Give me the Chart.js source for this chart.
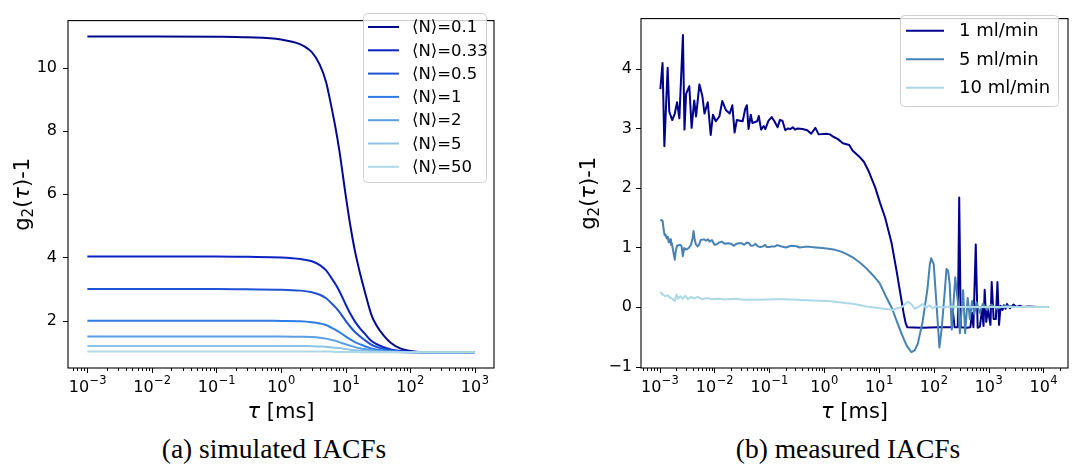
<!DOCTYPE html>
<html>
<head>
<meta charset="utf-8">
<script src="https://cdn.jsdelivr.net/npm/chart.js@4.4.1/dist/chart.umd.min.js"></script>
<style>
  body { margin: 0; background: #fff; width: 1092px; height: 470px; overflow: hidden; position: relative; }
  .panel { position: absolute; top: 0; width: 546px; height: 430px; }
  .cap { position: absolute; top: 434px; width: 546px; text-align: center;
         font-family: 'Liberation Serif', serif; font-size: 27.5px; line-height: 30px; color: #000; }
</style>
</head>
<body>
<div class="panel" style="left:0"><canvas id="simChart" width="546" height="430"></canvas></div>
<div class="panel" style="left:546px"><canvas id="measChart" width="546" height="430"></canvas></div>
<div class="cap" style="left:1px">(a) simulated IACFs</div>
<div class="cap" style="left:575px">(b) measured IACFs</div>

<script>
// ---- (a) simulated IACFs ----
const tauSim = [0.001, 0.01, 0.1, 0.3, 1, 2, 3, 4, 5, 6, 7, 8, 10, 12, 14, 17, 20, 25, 30, 40, 50, 70, 100, 200, 1000];
const g2N01  = [11, 11, 10.99, 10.97, 10.9, 10.75, 10.5, 10.1, 9.55, 8.8, 8.1, 7.4, 6.0, 4.95, 4.2, 3.45, 2.9, 2.2, 1.85, 1.5, 1.3, 1.12, 1.04, 1.0, 1.0];
const g2N033 = [4.03, 4.03, 4.03, 4.02, 4.0, 3.95, 3.88, 3.76, 3.59, 3.36, 3.15, 2.94, 2.52, 2.2, 1.97, 1.74, 1.58, 1.36, 1.26, 1.15, 1.09, 1.04, 1.01, 1.0, 1.0];
const g2N05  = [3, 3, 3, 2.99, 2.98, 2.95, 2.9, 2.82, 2.71, 2.56, 2.42, 2.28, 2.0, 1.79, 1.64, 1.49, 1.38, 1.24, 1.17, 1.1, 1.06, 1.02, 1.01, 1.0, 1.0];
const g2N1   = [2, 2, 2, 2, 1.99, 1.98, 1.95, 1.91, 1.86, 1.78, 1.71, 1.64, 1.5, 1.4, 1.32, 1.25, 1.19, 1.12, 1.09, 1.05, 1.03, 1.01, 1.0, 1.0, 1.0];
const g2N2   = [1.5, 1.5, 1.5, 1.5, 1.5, 1.49, 1.48, 1.46, 1.43, 1.39, 1.36, 1.32, 1.25, 1.2, 1.16, 1.12, 1.1, 1.06, 1.04, 1.03, 1.02, 1.01, 1.0, 1.0, 1.0];
const g2N5   = [1.2, 1.2, 1.2, 1.2, 1.2, 1.2, 1.19, 1.18, 1.17, 1.16, 1.14, 1.13, 1.1, 1.08, 1.06, 1.05, 1.04, 1.02, 1.02, 1.01, 1.01, 1.0, 1.0, 1.0, 1.0];
const g2N50  = [1.02, 1.02, 1.02, 1.02, 1.02, 1.02, 1.02, 1.02, 1.02, 1.02, 1.01, 1.01, 1.01, 1.01, 1.01, 1.0, 1.0, 1.0, 1.0, 1.0, 1.0, 1.0, 1.0, 1.0, 1.0];
const simLabels = ['\u27E8N\u27E9=0.1', '\u27E8N\u27E9=0.33', '\u27E8N\u27E9=0.5', '\u27E8N\u27E9=1', '\u27E8N\u27E9=2', '\u27E8N\u27E9=5', '\u27E8N\u27E9=50'];
const simColors = ['#03098c', '#0b23c3', '#2052d6', '#2f7be6', '#5a9fe4', '#8ec4e6', '#aed8e6'];
const simXExps = [-3, -2, -1, 0, 1, 2, 3];
const simYTicks = [2, 4, 6, 8, 10];

// ---- (b) measured IACFs ----
const tauFlow1 = [1.03e-3, 1.13e-3, 1.22e-3, 1.40e-3, 1.50e-3, 1.70e-3, 1.89e-3, 2.08e-3, 2.29e-3, 2.66e-3,
  2.84e-3, 3.04e-3, 3.48e-3, 3.83e-3, 4.28e-3, 4.62e-3, 5.31e-3, 6.0e-3, 6.59e-3, 7.55e-3,
  8.55e-3, 9.38e-3, 0.0106, 0.0123, 0.0139, 0.0161, 0.019, 0.0212, 0.0233, 0.0256,
  0.0294, 0.0327, 0.0365, 0.0391, 0.0418, 0.046, 0.0492, 0.0603, 0.0644, 0.071,
  0.0791, 0.0847, 0.097, 0.111, 0.124, 0.142, 0.156, 0.174, 0.196, 0.219,
  0.244, 0.269, 0.295, 0.329, 0.404, 0.494, 0.582, 0.695, 0.796, 1.11,
  1.28, 1.47, 1.79, 2.2, 2.88, 3.3, 4.35, 5.32, 6.52, 8.55,
  10.5, 13.0, 17.0, 20.9, 25.1, 28.2, 30.9, 33.1,
  60, 120, 214, 223, 240, 275, 292, 312, 400, 467, 499, 530, 585, 634, 696, 765, 810, 851, 910, 973,
  1084, 1143, 1239, 1361, 1455, 1556, 1663, 1800, 1901, 2050, 2173, 2350, 2484, 2840, 3250, 3715, 4246, 5500, 8000, 12600];
const g2Flow1 = [3.66, 4.10, 2.70, 4.02, 3.28, 3.14, 3.25, 3.44, 3.17, 4.57,
  2.98, 3.58, 3.71, 3.01, 3.47, 3.20, 3.74, 3.55, 3.25, 3.44,
  2.89, 3.23, 3.12, 3.20, 3.46, 3.31, 3.25, 3.39, 2.93, 3.14,
  3.13, 3.12, 3.33, 3.39, 2.99, 3.23, 3.09, 3.12, 3.21, 2.98,
  3.04, 2.99, 3.13, 3.19, 3.12, 3.02, 3.14, 3.13, 2.97, 3.00,
  2.99, 3.02, 2.98, 3.00, 2.99, 2.97, 2.91, 3.01, 2.90, 2.91,
  2.90, 2.86, 2.82, 2.75, 2.72, 2.63, 2.53, 2.44, 2.28, 2.01,
  1.75, 1.5, 1.08, 0.62, 0.18, -0.1, -0.28, -0.34,
  -0.35, -0.34, -0.34, -0.05, -0.34, -0.34, 1.84, -0.34, -0.35, -0.34, -0.1, -0.34, 1.05, -0.35, -0.33, -0.03, -0.32, 0.29, -0.25, -0.03,
  -0.3, 0.42, -0.2, -0.2, 0.42, -0.3, 0.02, -0.05, 0.03, -0.03, 0.05, 0.0, -0.02, 0.04, 0.0, 0.02, 0.0, 0.01, 0.0, 0.0];

const tauFlow5 = [1.03e-3, 1.13e-3, 1.18e-3, 1.23e-3, 1.28e-3, 1.35e-3, 1.41e-3, 1.46e-3, 1.55e-3, 1.61e-3,
  1.67e-3, 1.77e-3, 1.89e-3, 1.97e-3, 2.08e-3, 2.23e-3, 2.38e-3, 2.52e-3, 2.65e-3, 2.81e-3,
  3.04e-3, 3.40e-3, 3.73e-3, 3.99e-3, 4.16e-3, 4.33e-3, 4.57e-3, 4.90e-3, 5.24e-3, 5.61e-3,
  6.43e-3, 7.05e-3, 7.66e-3, 8.18e-3, 8.99e-3, 0.01, 0.011, 0.0121, 0.0135, 0.0155,
  0.0177, 0.0203, 0.0226, 0.0252, 0.0285, 0.0313, 0.0349, 0.039, 0.0429, 0.0458,
  0.0512, 0.0562, 0.0617, 0.0689, 0.0767, 0.0843, 0.0904, 0.101, 0.111, 0.127,
  0.141, 0.162, 0.2, 0.251, 0.316, 0.355, 0.447, 0.541, 0.706, 0.923,
  1.21, 1.58, 2.06, 2.69, 3.52, 4.6, 6.01, 7.85, 10.3, 13.4,
  17.5, 21.4, 26.2, 32.1, 39.2, 44.8, 51.2, 62.7, 76.6, 85.1,
  89.7, 100, 114, 127, 140, 160, 171, 183, 195, 214,
  247, 275, 300, 344, 375, 417, 457, 501, 550, 603,
  692, 794, 933, 1122, 1413, 1995, 3162, 12600];
const g2Flow5 = [1.465, 1.449, 1.314, 1.206, 1.217, 1.152, 1.179, 1.088, 1.136, 1.045,
  1.072, 0.937, 0.792, 0.937, 1.034, 1.034, 1.045, 1.018, 0.856, 0.991,
  0.964, 0.991, 1.045, 1.152, 1.276, 1.152, 1.055, 1.018, 1.045, 1.125,
  1.136, 1.115, 1.136, 1.099, 1.125, 1.045, 1.055, 1.082, 1.099, 1.061,
  1.072, 1.061, 1.029, 1.061, 1.072, 1.072, 1.045, 1.082, 1.072, 1.029,
  1.034, 1.061, 1.018, 1.007, 1.018, 1.045, 1.007, 1.007, 1.018, 1.018,
  1.04, 1.02, 1.0, 1.03, 1.02, 1.0, 1.01, 1.01, 1.0, 0.99,
  0.98, 0.96, 0.93, 0.88, 0.82, 0.74, 0.64, 0.53, 0.40, 0.18,
  -0.03, -0.25, -0.46, -0.65, -0.76, -0.73, -0.62, -0.25, 0.29, 0.72,
  0.82, 0.72, -0.03, -0.68, -0.36, 0.29, 0.64, 0.61, 0.4, -0.38,
  0.5, 0.1, -0.44, 0.28, -0.44, 0.15, -0.2, 0.1, -0.12, 0.08,
  -0.1, 0.06, -0.05, 0.04, -0.03, 0.02, 0.0, 0.0];

const tauFlow10 = [1.03e-3, 1.13e-3, 1.26e-3, 1.39e-3, 1.55e-3, 1.70e-3, 1.89e-3, 2.03e-3, 2.17e-3, 2.38e-3,
  2.65e-3, 2.96e-3, 3.26e-3, 3.73e-3, 4.27e-3, 4.89e-3, 6.0e-3, 7.34e-3, 8.99e-3, 0.0118,
  0.0155, 0.0233, 0.0349, 0.0601, 0.127, 0.162, 0.316, 0.616, 1.21, 2.06,
  3.52, 6.01, 10.3, 15.4, 17.8, 20, 26.3, 33.9, 39.8, 44.7,
  52.5, 63.1, 72.4, 83.2, 95.5, 112, 141, 200, 316, 1000, 12600];
const g2Flow10 = [0.253, 0.21, 0.18, 0.2, 0.156, 0.14, 0.10, 0.21, 0.14, 0.18,
  0.14, 0.19, 0.13, 0.17, 0.14, 0.17, 0.13, 0.15, 0.13, 0.14,
  0.124, 0.14, 0.12, 0.12, 0.13, 0.13, 0.12, 0.11, 0.10, 0.075,
  0.05, 0.01, -0.02, -0.04, -0.05, -0.03, 0.0, 0.09, 0.04, -0.03,
  0.0, 0.05, -0.01, 0.03, -0.02, 0.01, -0.01, 0.01, 0.0, 0.0, 0.0];

const measLabels = ['1 ml/min', '5 ml/min', '10 ml/min'];
const measColors = ['#00008b', '#4682b4', '#add8e6'];
const measXExps = [-3, -2, -1, 0, 1, 2, 3, 4];
const measYTicks = [-1, 0, 1, 2, 3, 4];

const SANS = "'DejaVu Sans', sans-serif";

function pairUp(xs, ys) {
  return xs.map((x, i) => ({ x: x, y: ys[i] }));
}

function drawRich(ctx, parts, cx, cy, rot) {
  let w = 0;
  parts.forEach(p => { ctx.font = p.font; p.w = ctx.measureText(p.t).width; w += p.w; });
  ctx.save();
  ctx.translate(cx, cy);
  ctx.rotate(rot);
  ctx.textBaseline = 'alphabetic';
  ctx.textAlign = 'left';
  let x = -w / 2;
  parts.forEach(p => { ctx.font = p.font; ctx.fillText(p.t, x, p.dy || 0); x += p.w; });
  ctx.restore();
}

// frame, ticks, 10^n labels, axis titles and legend, matplotlib style
const axisDecor = {
  id: 'axisDecor',
  afterDraw(chart, args, o) {
    const { ctx, chartArea: a, scales: { x, y } } = chart;
    ctx.save();
    ctx.strokeStyle = '#000';
    ctx.fillStyle = '#000';
    ctx.lineWidth = 1.1;
    ctx.strokeRect(a.left, a.top, a.right - a.left, a.bottom - a.top);

    // x ticks: majors and minors
    ctx.lineWidth = 1;
    ctx.beginPath();
    for (let n = -5; n <= 5; n++) {
      for (let k = 1; k <= 9; k++) {
        const v = k * Math.pow(10, n);
        if (v < x.min || v > x.max) continue;
        const px = Math.round(x.getPixelForValue(v)) + 0.5;
        ctx.moveTo(px, a.bottom);
        ctx.lineTo(px, a.bottom + (k === 1 ? 5 : 3));
      }
    }
    // y ticks
    o.yTicks.forEach(v => {
      const py = Math.round(y.getPixelForValue(v)) + 0.5;
      ctx.moveTo(a.left, py);
      ctx.lineTo(a.left - 5, py);
    });
    ctx.stroke();

    // 10^n labels
    ctx.textBaseline = 'alphabetic';
    ctx.textAlign = 'left';
    o.xExps.forEach(e => {
      const px = x.getPixelForValue(Math.pow(10, e));
      const sup = e < 0 ? '\u2212' + (-e) : String(e);
      ctx.font = '16px ' + SANS;
      const wb = ctx.measureText('10').width;
      ctx.font = '11.5px ' + SANS;
      const ws = ctx.measureText(sup).width;
      const x0 = px - (wb + ws) / 2;
      ctx.font = '16px ' + SANS;
      ctx.fillText('10', x0, a.bottom + 24);
      ctx.font = '11.5px ' + SANS;
      ctx.fillText(sup, x0 + wb + 0.5, a.bottom + 16);
    });

    // axis titles
    const big = '21px ' + SANS, ital = 'italic 21px ' + SANS, small = '15px ' + SANS;
    drawRich(ctx, [{ t: '\u03C4', font: ital }, { t: ' [ms]', font: big }],
      (a.left + a.right) / 2, 418, 0);
    drawRich(ctx, [{ t: 'g', font: big }, { t: '2', font: small, dy: 4 }, { t: '(', font: big },
      { t: '\u03C4', font: ital }, { t: ')-1', font: big }],
      o.yTitleX, (a.top + a.bottom) / 2, -Math.PI / 2);

    // legend
    const L = o.legend;
    ctx.beginPath();
    ctx.roundRect(L.x + 0.5, L.y + 0.5, L.w, L.h, 4);
    ctx.fillStyle = 'rgba(255,255,255,0.8)';
    ctx.fill();
    ctx.strokeStyle = '#d0d0d0';
    ctx.lineWidth = 1;
    ctx.stroke();
    ctx.textBaseline = 'middle';
    ctx.font = L.font + 'px ' + SANS;
    chart.data.datasets.forEach((ds, i) => {
      const ly = L.y0 + i * L.dy;
      ctx.strokeStyle = ds.borderColor;
      ctx.lineWidth = 2;
      ctx.beginPath();
      ctx.moveTo(L.hx, ly);
      ctx.lineTo(L.hx + L.hw, ly);
      ctx.stroke();
      ctx.fillStyle = '#000';
      ctx.fillText(ds.label, L.tx, ly + 1);
    });
    ctx.restore();
  }
};

function buildChart(id, datasets, cfg) {
  return new Chart(document.getElementById(id), {
    type: 'line',
    data: { datasets: datasets },
    options: {
      responsive: false,
      animation: false,
      events: [],
      layout: { padding: { top: 5, right: cfg.padRight, left: 0, bottom: 0 } },
      plugins: {
        legend: { display: false },
        tooltip: { enabled: false },
        axisDecor: cfg.decor
      },
      scales: {
        x: {
          type: 'logarithmic',
          min: cfg.xMin, max: cfg.xMax,
          grid: { display: false, drawTicks: false },
          border: { display: false },
          ticks: { display: false },
          afterBuildTicks: s => { s.ticks = cfg.decor.xExps.map(e => ({ value: Math.pow(10, e) })); },
          afterFit: s => { s.height = 62; }
        },
        y: {
          type: 'linear',
          min: cfg.yMin, max: cfg.yMax,
          grid: { display: false, drawTicks: false },
          border: { display: false },
          ticks: {
            padding: cfg.yPad,
            color: '#000',
            font: { family: SANS, size: 16 },
            callback: v => v < 0 ? '\u2212' + (-v) : String(v)
          },
          afterBuildTicks: s => { s.ticks = cfg.decor.yTicks.map(v => ({ value: v })); },
          afterFit: s => { s.width = cfg.yWidth; }
        }
      }
    },
    plugins: [axisDecor]
  });
}

const simSeries = [g2N01, g2N033, g2N05, g2N1, g2N2, g2N5, g2N50];
buildChart('simChart', simSeries.map((ys, i) => ({
  label: simLabels[i],
  data: pairUp(tauSim, ys),
  borderColor: simColors[i],
  borderWidth: 2,
  pointRadius: 0,
  fill: false,
  cubicInterpolationMode: 'monotone',
  order: simSeries.length - i
})), {
  padRight: 52, yWidth: 68, yPad: 11,
  xMin: Math.pow(10, -3.3), xMax: Math.pow(10, 3.3), yMin: 0.5, yMax: 11.5,
  decor: {
    xExps: simXExps, yTicks: simYTicks, yTitleX: 29,
    legend: { x: 363, y: 13, w: 123, h: 169, y0: 27, dy: 23.3, hx: 368, hw: 31, tx: 412, font: 16.5 }
  }
});

const measTau = [tauFlow1, tauFlow5, tauFlow10];
const measG2 = [g2Flow1, g2Flow5, g2Flow10];
buildChart('measChart', measG2.map((ys, i) => ({
  label: measLabels[i],
  data: pairUp(measTau[i], ys),
  borderColor: measColors[i],
  borderWidth: 2,
  pointRadius: 0,
  fill: false,
  tension: 0,
  borderJoinStyle: 'round',
  order: measG2.length - i
})), {
  padRight: 24, yWidth: 95, yPad: 9,
  xMin: Math.pow(10, -3.34), xMax: Math.pow(10, 4.45), yMin: -1.025, yMax: 4.845,
  decor: {
    xExps: measXExps, yTicks: measYTicks, yTitleX: 49,
    legend: { x: 354, y: 15, w: 158, h: 91, y0: 30.7, dy: 28.5, hx: 360, hw: 38, tx: 413, font: 18 }
  }
});
</script>
</body>
</html>
